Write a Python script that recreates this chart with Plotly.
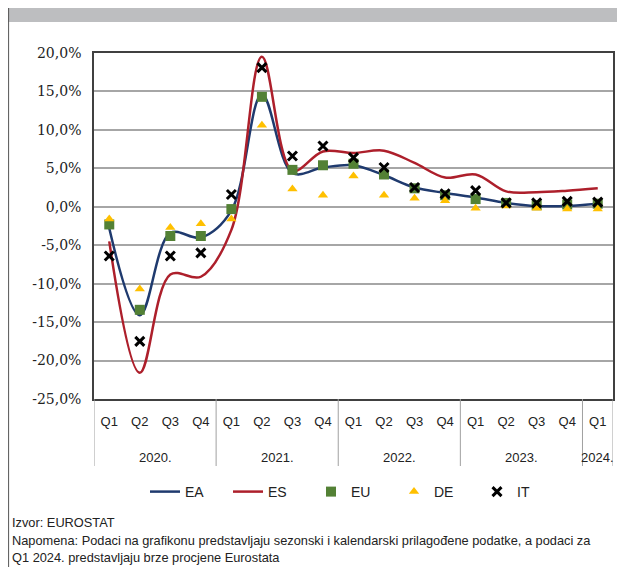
import plotly.graph_objects as go

# Data
years = ["2020.", "2021.", "2022.", "2023.", "2024."]
year_len = [4, 4, 4, 4, 1]
quarters = ["Q1", "Q2", "Q3", "Q4"] * 4 + ["Q1"]
periods = [f"{q} {y}" for y, n in zip(years, year_len) for q in ["Q1", "Q2", "Q3", "Q4"][:n]]

ea = [-2.8, -14.1, -3.4, -4.0, -0.5, 14.6, 4.4, 5.1, 5.4, 4.1, 2.5, 1.8, 1.2, 0.5, 0.1, 0.1, 0.4]
es = [-4.5, -21.6, -8.8, -9.1, -3.0, 19.5, 4.7, 7.2, 7.0, 7.3, 5.7, 3.8, 4.2, 2.0, 1.9, 2.1, 2.4]
eu = [-2.3, -13.4, -3.8, -3.8, -0.3, 14.3, 4.8, 5.4, 5.6, 4.2, 2.4, 1.5, 1.0, 0.5, 0.2, 0.3, 0.4]
de = [-1.6, -10.7, -2.7, -2.2, -1.6, 10.6, 2.3, 1.5, 4.0, 1.5, 1.1, 0.8, -0.2, 0.1, -0.2, -0.3, -0.3]
it = [-6.4, -17.5, -6.4, -6.0, 1.6, 18.1, 6.6, 7.9, 6.4, 5.1, 2.5, 1.7, 2.1, 0.5, 0.5, 0.7, 0.6]

y_ticks = [20, 15, 10, 5, 0, -5, -10, -15, -20, -25]
y_ticktext = [f"{v:.1f}%".replace(".", ",") for v in y_ticks]

SANS = "Liberation Sans"
SERIF = "DejaVu Serif"

fig = go.Figure()

fig.add_trace(go.Scatter(x=periods, y=ea, name="EA", mode="lines",
                         line=dict(color="#1f3a6e", width=2.5, shape="spline", smoothing=1)))
fig.add_trace(go.Scatter(x=periods, y=es, name="ES", mode="lines",
                         line=dict(color="#ad1f2b", width=2.5, shape="spline", smoothing=1)))
fig.add_trace(go.Scatter(x=periods, y=eu, name="EU", mode="markers",
                         marker=dict(symbol="square", size=10, color="#538135")))
fig.add_trace(go.Scatter(x=periods, y=de, name="DE", mode="markers",
                         marker=dict(symbol="triangle-up", size=9, color="#ffc000")))
fig.add_trace(go.Scatter(x=periods, y=it, name="IT", mode="markers",
                         marker=dict(symbol="x-thin-open", size=9, color="black",
                                     line=dict(color="black", width=3))))

# the page body adds an 8px offset, so the figure is drawn 8px smaller
# px -> paper helpers, in reference-picture pixels (plot area 94..613 x, 53..399 y)
def px_x(p):
    return (p - 94) / 519

def px_y(p):
    return (399 - p) / 346

shapes = [
    dict(type="rect", xref="paper", yref="paper", x0=px_x(8), x1=px_x(640),
         y0=px_y(22), y1=px_y(0), fillcolor="#bdbec0", line=dict(width=0), layer="below"),
    dict(type="line", xref="paper", yref="paper", x0=px_x(8.6), x1=px_x(8.6),
         y0=px_y(580), y1=px_y(0), line=dict(color="#555", width=1)),
]

# year group dividers and labels
start = 0
for y, n in zip(years, year_len):
    shapes.append(dict(type="line", xref="x", yref="paper", x0=start - 0.5, x1=start - 0.5,
                       y0=px_y(466), y1=0, line=dict(color="#a0a0a0", width=1)))
    fig.add_annotation(text=y, xref="x", yref="paper", x=start + (n - 1) / 2, y=px_y(457),
                       xanchor="center", yanchor="middle", showarrow=False,
                       font=dict(family=SANS, size=13, color="#222"))
    start += n
shapes.append(dict(type="line", xref="x", yref="paper", x0=start - 0.5, x1=start - 0.5,
                   y0=px_y(466), y1=0, line=dict(color="#a0a0a0", width=1)))

fig.update_layout(
    width=617, height=559,
    margin=dict(l=86, r=12, t=45, b=168, autoexpand=False),
    paper_bgcolor="white", plot_bgcolor="white",
    showlegend=True,
    legend=dict(orientation="h", x=px_x(145), y=px_y(492), xanchor="left", yanchor="middle",
                entrywidth=38, entrywidthmode="pixels",
                font=dict(family=SANS, size=14, color="#222")),
    xaxis=dict(
        type="category", range=[-0.5, 16.5],
        tickvals=periods, ticktext=quarters,
        showgrid=False, showline=True, linecolor="#404040", linewidth=1.5, mirror=True,
        ticks="", ticklabelstandoff=10, automargin=False,
        tickfont=dict(family=SANS, size=13, color="#222"),
    ),
    yaxis=dict(
        range=[-25, 20], tickvals=y_ticks, ticktext=y_ticktext,
        showgrid=True, gridcolor="#a6a6a6", gridwidth=1.5,
        zeroline=True, zerolinecolor="#a6a6a6", zerolinewidth=1.5,
        showline=True, linecolor="#404040", linewidth=1.5, mirror=True,
        ticks="", ticklabelstandoff=8, automargin=False,
        tickfont=dict(family=SERIF, size=14, color="#222"),
    ),
    shapes=shapes,
)

notes = [
    (522, "Izvor: EUROSTAT"),
    (540, "Napomena: Podaci na grafikonu predstavljaju sezonski i kalendarski prilagođene podatke, a podaci za"),
    (557, "Q1 2024. predstavljaju brze procjene Eurostata"),
]
for py, txt in notes:
    fig.add_annotation(text=txt, xref="paper", yref="paper", x=px_x(10), y=px_y(py),
                       xanchor="left", yanchor="middle", showarrow=False,
                       font=dict(family=SANS, size=12.8, color="#222"))

fig.write_html("out.html")
